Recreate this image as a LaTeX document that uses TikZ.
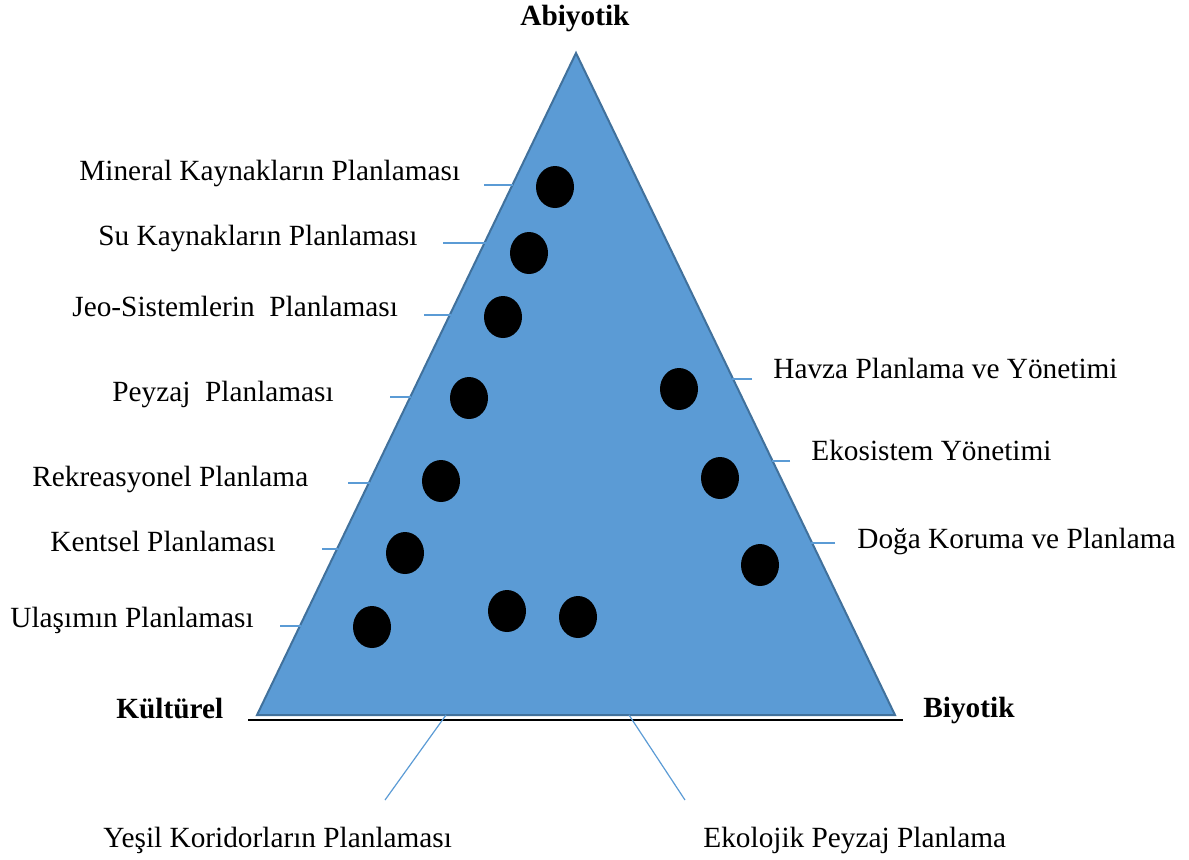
\documentclass[tikz,border=0pt]{standalone}
\usepackage{fontspec}
\setmainfont{Liberation Serif}
\usepackage{tikz}
\usetikzlibrary{shapes.geometric}
\definecolor{triblue}{HTML}{5B9BD5}
\definecolor{triedge}{HTML}{41719C}

\begin{document}
\begin{tikzpicture}[x=0.5pt, y=-0.5pt,
    lbl/.style={anchor=base west, inner sep=0pt, font=\fontsize{14.65}{17}\selectfont},
    hd/.style={lbl, font=\fontsize{14.65}{17}\selectfont\bfseries},
    dot/.style={ellipse, fill=black, inner sep=0pt, minimum width=19pt, minimum height=21pt},
    tick/.style={draw=triblue, line width=0.6pt}]
      \useasboundingbox (0,0) rectangle (1189,859);
      % triangle and base line
      \coordinate(abi) at (576,53);
      \coordinate(kul) at (257,715);
      \coordinate(biy) at (895,715);
      \coordinate(bl) at (248,720);
      \coordinate(br) at (903,720);
      \draw[fill=triblue, draw=triedge, line width=1pt] (abi) -- (biy) -- (kul) -- cycle;
      \draw[line width=1pt] (bl) -- (br);

      % corner titles
      \node(habi) [hd] at (520,25) {Abiyotik};
      \node(hkul) [hd] at (116,718) {Kültürel};
      \node(hbiy) [hd] at (923,717) {Biyotik};

      % labels
      \node(min) [lbl] at (79,180) {Mineral Kaynakların Planlaması};
      \node(su) [lbl] at (98,245) {Su Kaynakların Planlaması};
      \node(jeo) [lbl] at (72,316) {Jeo-Sistemlerin\ \ Planlaması};
      \node(pey) [lbl] at (112,401) {Peyzaj\ \ Planlaması};
      \node(rek) [lbl] at (32,486) {Rekreasyonel Planlama};
      \node(ken) [lbl] at (50,551) {Kentsel Planlaması};
      \node(ula) [lbl] at (10,627) {Ulaşımın Planlaması};
      \node(hav) [lbl] at (773,378) {Havza Planlama ve Yönetimi};
      \node(eko) [lbl] at (811,460) {Ekosistem Yönetimi};
      \node(dog) [lbl] at (857,548) {Doğa Koruma ve Planlama};
      \node(yes) [lbl] at (103,847) {Yeşil Koridorların Planlaması};
      \node(ekp) [lbl] at (703,847) {Ekolojik Peyzaj Planlama};

      % dots
      \node(d1) [dot] at (555,187) {};
      \node(d2) [dot] at (529,253) {};
      \node(d3) [dot] at (503,317) {};
      \node(d4) [dot] at (469,398) {};
      \node(d5) [dot] at (441,481) {};
      \node(d6) [dot] at (405,553) {};
      \node(d7) [dot] at (372,627) {};
      \node(d8) [dot] at (507,611) {};
      \node(d9) [dot] at (578,617) {};
      \node(d10) [dot] at (679,389) {};
      \node(d11) [dot] at (720,478) {};
      \node(d12) [dot] at (760,565) {};

      % leader lines
      \coordinate(t1) at (484,185);  \coordinate(e1) at (513,185);
      \coordinate(t2) at (443,243);  \coordinate(e2) at (486,243);
      \coordinate(t3) at (424,315);  \coordinate(e3) at (451,315);
      \coordinate(t4) at (390,397);  \coordinate(e4) at (411,397);
      \coordinate(t5) at (348,483);  \coordinate(e5) at (370,483);
      \coordinate(t6) at (322,549);  \coordinate(e6) at (338,549);
      \coordinate(t7) at (280,626);  \coordinate(e7) at (301,626);
      \coordinate(t8) at (752,379);  \coordinate(e8) at (732,379);
      \coordinate(t9) at (790,461);  \coordinate(e9) at (772,461);
      \coordinate(t10) at (835,543); \coordinate(e10) at (811,543);
      \coordinate(t11) at (385,800); \coordinate(e11) at (446,715);
      \coordinate(t12) at (685,800); \coordinate(e12) at (629,715);

      \draw[tick](t1) -- (e1);
      \draw[tick](t2) -- (e2);
      \draw[tick](t3) -- (e3);
      \draw[tick](t4) -- (e4);
      \draw[tick](t5) -- (e5);
      \draw[tick](t6) -- (e6);
      \draw[tick](t7) -- (e7);
      \draw[tick](t8) -- (e8);
      \draw[tick](t9) -- (e9);
      \draw[tick](t10) -- (e10);
      \draw[tick](t11) -- (e11);
      \draw[tick](t12) -- (e12);
    \end{tikzpicture}
\end{document}
